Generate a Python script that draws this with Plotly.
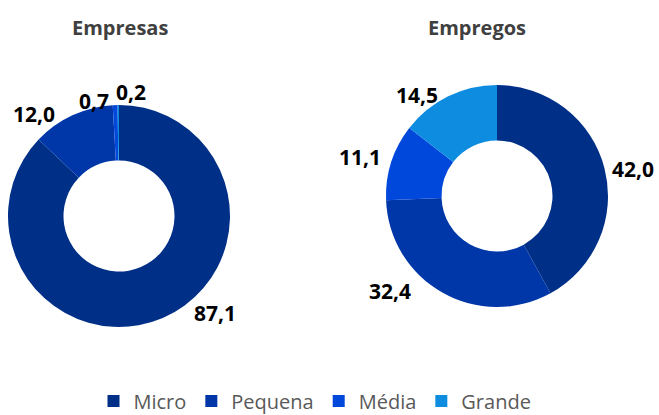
import plotly.graph_objects as go

categories = ["Micro", "Pequena", "Média", "Grande"]
empresas = [87.1, 12.0, 0.7, 0.2]
empregos = [42.0, 32.4, 11.1, 14.5]
titles = ["Empresas", "Empregos"]
colors = ["#002F87", "#0037A8", "#0047DB", "#0E8CE0"]

W, H = 659, 415
# label anchor positions (pixels) for each slice value label
label_pos_empresas = [(215, 313), (34, 114), (94, 101), (131, 92)]
label_pos_empregos = [(633, 169), (390, 291), (360, 157), (417, 95)]

fig = go.Figure()
common = dict(
    labels=categories, hole=0.5, sort=False, direction="clockwise", rotation=0,
    marker=dict(colors=colors, line=dict(color="white", width=0)),
    textinfo="none", hoverinfo="label+value",
)
fig.add_trace(go.Pie(values=empresas, domain=dict(x=[8 / W, 230 / W], y=[1 - 327 / H, 1 - 105 / H]), **common))
fig.add_trace(go.Pie(values=empregos, domain=dict(x=[386 / W, 608 / W], y=[1 - 307 / H, 1 - 85 / H]),
                     showlegend=False, **common))

def fmt(v):
    return f"{v:.1f}".replace(".", ",")

for vals, poss in [(empresas, label_pos_empresas), (empregos, label_pos_empregos)]:
    for v, (px, py) in zip(vals, poss):
        fig.add_annotation(text="<b>" + fmt(v) + "</b>", x=px / W, y=1 - py / H, xref="paper", yref="paper",
                           xanchor="center", yanchor="middle", showarrow=False,
                           font=dict(family="Open Sans", size=21, color="black"))

for t, cx in zip(titles, [120, 477]):
    fig.add_annotation(text="<b>" + t + "</b>", x=cx / W, y=1 - 28 / H, xref="paper", yref="paper",
                       xanchor="center", yanchor="middle", showarrow=False,
                       font=dict(family="Open Sans", size=20, color="#404040"))

fig.update_layout(
    width=W, height=H, margin=dict(l=0, r=0, t=0, b=0, autoexpand=False),
    paper_bgcolor="white", plot_bgcolor="white",
    separators=",.",
    legend=dict(orientation="h", x=315 / W, xanchor="center", y=1 - 401 / H, yanchor="middle",
                font=dict(family="Open Sans", size=20, color="#595959"), traceorder="normal"),
)
fig.write_html("out.html", config={"displayModeBar": False},
               post_script="document.body.style.margin='0';")
